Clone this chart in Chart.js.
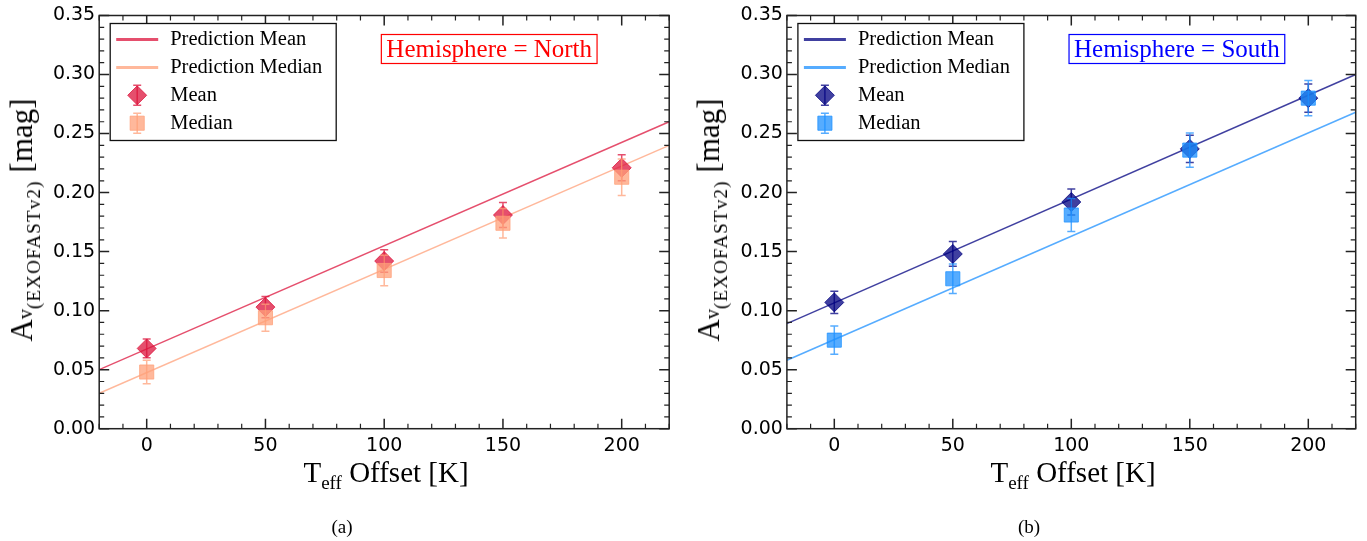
<!DOCTYPE html>
<html>
<head>
<meta charset="utf-8">
<script src="https://cdn.jsdelivr.net/npm/chart.js@4.4.1/dist/chart.umd.min.js"></script>
<style>
    html, body { margin: 0; padding: 0; background: #fff; }
    #page { position: relative; width: 1367px; height: 541px; overflow: hidden; font-family: "Liberation Serif", "Times New Roman", serif; color: #000; }
    #page canvas { position: absolute; top: 0; }
    .xtitle { position: absolute; top: 456px; font-size: 29px; line-height: 32px; white-space: nowrap; transform: translateX(-50%); }
    .xtitle .sub { font-size: 19px; position: relative; top: 7px; }
    .ytitle { position: absolute; font-size: 31px; line-height: 30px; white-space: nowrap; transform: translate(-50%, -50%) rotate(-90deg); }
    .ytitle .v { font-size: 20px; }
    .ytitle .sub { font-size: 19px; position: relative; top: 8px; letter-spacing: 1.2px; }
    .caption { position: absolute; top: 516px; font-size: 19px; line-height: 22px; transform: translateX(-50%); }
</style>
</head>
<body>
<div id="page">
    <canvas id="northChart" width="684" height="541" style="left:0"></canvas>
    <canvas id="southChart" width="683" height="541" style="left:684px"></canvas>

    <div class="ytitle" style="left:24px; top:220px">A<span class="v">v</span><span class="sub">(EXOFASTv2)</span> [mag]</div>
    <div class="ytitle" style="left:711px; top:220px">A<span class="v">v</span><span class="sub">(EXOFASTv2)</span> [mag]</div>

    <div class="xtitle" style="left:386px">T<span class="sub">eff</span> Offset [K]</div>
    <div class="xtitle" style="left:1073px">T<span class="sub">eff</span> Offset [K]</div>

    <div class="caption" style="left:342px">(a)</div>
    <div class="caption" style="left:1029px">(b)</div>
</div>

<script>
// Teff offsets and axis ticks
const OFFSETS = [0, 50, 100, 150, 200];
const FIT_X = [-20, 220];
const X_TICKS = [0, 50, 100, 150, 200];
const Y_TICKS = [0, 0.05, 0.10, 0.15, 0.20, 0.25, 0.30, 0.35];

// Northern hemisphere
const NORTH_MEAN = [0.068, 0.103, 0.142, 0.181, 0.221];
const NORTH_MEAN_ERR = [0.008, 0.009, 0.0095, 0.0105, 0.011];
const NORTH_MEDIAN = [0.048, 0.094, 0.134, 0.174, 0.213];
const NORTH_MEDIAN_ERR = [0.010, 0.0115, 0.013, 0.0125, 0.0155];
const NORTH_FIT_MEAN = [0.050, 0.260];
const NORTH_FIT_MEDIAN = [0.030, 0.240];

// Southern hemisphere
const SOUTH_MEAN = [0.107, 0.148, 0.192, 0.237, 0.280];
const SOUTH_MEAN_ERR = [0.0095, 0.0105, 0.011, 0.0115, 0.012];
const SOUTH_MEDIAN = [0.075, 0.127, 0.181, 0.236, 0.280];
const SOUTH_MEDIAN_ERR = [0.012, 0.0125, 0.014, 0.0145, 0.015];
const SOUTH_FIT_MEAN = [0.089, 0.300];
const SOUTH_FIT_MEDIAN = [0.058, 0.268];

function points(xs, ys) {
    return xs.map(function(x, i) { return { x: x, y: ys[i] }; });
}

/* ─── error bars drawn on top of each scatter dataset ─── */
const errorBars = {
    id: 'errorBars',
    afterDatasetDraw: function(chart, args) {
        const ds = chart.data.datasets[args.index];
        if (!ds.errors) return;
        const ctx = chart.ctx;
        const y = chart.scales.y;
        ctx.save();
        ctx.strokeStyle = ds.borderColor;
        ctx.lineWidth = 1.5;
        args.meta.data.forEach(function(pt, i) {
            const v = ds.data[i].y;
            const top = y.getPixelForValue(v + ds.errors[i]);
            const bot = y.getPixelForValue(v - ds.errors[i]);
            ctx.beginPath();
            ctx.moveTo(pt.x, top); ctx.lineTo(pt.x, bot);
            ctx.moveTo(pt.x - 4, top); ctx.lineTo(pt.x + 4, top);
            ctx.moveTo(pt.x - 4, bot); ctx.lineTo(pt.x + 4, bot);
            ctx.stroke();
        });
        ctx.restore();
    }
};

/* ─── box frame with inward ticks on all four sides ─── */
function tickValues(min, max, step) {
    const out = [];
    for (let k = Math.ceil(min / step - 1e-6); k * step <= max + 1e-9; k++) out.push(k * step);
    return out;
}

const frame = {
    id: 'frame',
    afterDatasetsDraw: function(chart) {
        const a = chart.chartArea;
        const xs = chart.scales.x, ys = chart.scales.y;
        const ctx = chart.ctx;
        ctx.save();
        ctx.strokeStyle = '#222';
        ctx.lineWidth = 1.5;
        ctx.strokeRect(a.left, a.top, a.right - a.left, a.bottom - a.top);

        function xTick(v, len) {
            const px = xs.getPixelForValue(v);
            ctx.moveTo(px, a.bottom); ctx.lineTo(px, a.bottom - len);
            ctx.moveTo(px, a.top); ctx.lineTo(px, a.top + len);
        }
        function yTick(v, len) {
            const py = ys.getPixelForValue(v);
            ctx.moveTo(a.left, py); ctx.lineTo(a.left + len, py);
            ctx.moveTo(a.right, py); ctx.lineTo(a.right - len, py);
        }

        ctx.beginPath();
        X_TICKS.forEach(function(v) { xTick(v, 10); });
        Y_TICKS.forEach(function(v) { yTick(v, 10); });
        ctx.stroke();

        ctx.lineWidth = 1.2;
        ctx.beginPath();
        tickValues(xs.min, xs.max, 10).forEach(function(v) {
            if (v % 50 !== 0) xTick(v, 5);
        });
        tickValues(ys.min, ys.max, 0.01).forEach(function(v) {
            if (Math.abs(v / 0.05 - Math.round(v / 0.05)) > 1e-6) yTick(v, 5);
        });
        ctx.stroke();
        ctx.restore();
    }
};

/* ─── framed legend in the upper left of the plot ─── */
const legendBox = {
    id: 'legendBox',
    afterDraw: function(chart) {
        const a = chart.chartArea;
        const ctx = chart.ctx;
        const left = a.left + 11, top = a.top + 8;
        ctx.save();
        ctx.fillStyle = '#fff';
        ctx.strokeStyle = '#111';
        ctx.lineWidth = 1.3;
        ctx.fillRect(left, top, 226, 117);
        ctx.strokeRect(left, top, 226, 117);

        ctx.font = '20.5px "Liberation Serif"';
        ctx.textBaseline = 'middle';
        chart.data.datasets.forEach(function(ds, i) {
            const cy = top + 16 + i * 27.9;
            if (ds.type === 'line') {
                ctx.strokeStyle = ds.borderColor;
                ctx.lineWidth = 3;
                ctx.beginPath();
                ctx.moveTo(left + 6, cy); ctx.lineTo(left + 48, cy);
                ctx.stroke();
            } else {
                const cx = left + 27;
                ctx.fillStyle = ds.backgroundColor;
                ctx.strokeStyle = ds.borderColor;
                ctx.lineWidth = 1;
                Chart.helpers.drawPoint(ctx, { pointStyle: ds.pointStyle, radius: ds.pointRadius, rotation: 0, borderWidth: 1 }, cx, cy);
                ctx.lineWidth = 1.5;
                ctx.beginPath();
                ctx.moveTo(cx, cy - 10); ctx.lineTo(cx, cy + 10);
                ctx.moveTo(cx - 4, cy - 10); ctx.lineTo(cx + 4, cy - 10);
                ctx.moveTo(cx - 4, cy + 10); ctx.lineTo(cx + 4, cy + 10);
                ctx.stroke();
            }
            ctx.fillStyle = '#000';
            ctx.fillText(ds.label, left + 60, cy);
        });
        ctx.restore();
    }
};

/* ─── hemisphere tag ─── */
const tag = {
    id: 'tag',
    afterDraw: function(chart, args, opts) {
        const a = chart.chartArea;
        const ctx = chart.ctx;
        const cx = a.left + 390, cy = a.top + 33.5;
        ctx.save();
        ctx.font = '25px "Liberation Serif"';
        ctx.textAlign = 'center';
        ctx.textBaseline = 'middle';
        const w = ctx.measureText(opts.text).width + 10;
        ctx.fillStyle = '#fff';
        ctx.fillRect(cx - w / 2, cy - 14.5, w, 29);
        ctx.strokeStyle = opts.color;
        ctx.lineWidth = 1.2;
        ctx.strokeRect(cx - w / 2, cy - 14.5, w, 29);
        ctx.fillStyle = opts.color;
        ctx.fillText(opts.text, cx, cy + 1);
        ctx.restore();
    }
};

function makeChart(id, c) {
    const tickFont = { family: 'DejaVu Sans', size: 19 };
    return new Chart(document.getElementById(id), {
        type: 'scatter',
        data: {
            datasets: [{
                    type: 'line',
                    label: 'Prediction Mean',
                    data: points(FIT_X, c.fitMean),
                    borderColor: c.meanColor,
                    borderWidth: 1.5,
                    pointRadius: 0,
                    fill: false,
                    order: 3,
                },
                {
                    type: 'line',
                    label: 'Prediction Median',
                    data: points(FIT_X, c.fitMedian),
                    borderColor: c.medianColor,
                    borderWidth: 1.5,
                    pointRadius: 0,
                    fill: false,
                    order: 2,
                },
                {
                    label: 'Mean',
                    data: points(OFFSETS, c.mean),
                    errors: c.meanErr,
                    pointStyle: 'rectRot',
                    pointRadius: 9.5,
                    backgroundColor: c.meanColor,
                    borderColor: c.meanColor,
                    borderWidth: 1,
                    order: 1,
                },
                {
                    label: 'Median',
                    data: points(OFFSETS, c.median),
                    errors: c.medianErr,
                    pointStyle: 'rect',
                    pointRadius: 10,
                    backgroundColor: c.medianColor,
                    borderColor: c.medianColor,
                    borderWidth: 1,
                    order: 0,
                }
            ]
        },
        options: {
            responsive: false,
            animation: false,
            events: [],
            layout: { padding: { top: 15.5, right: c.padRight, left: 0, bottom: 0 } },
            plugins: {
                legend: { display: false },
                tooltip: { enabled: false },
                tag: { text: c.tag, color: c.tagColor }
            },
            scales: {
                x: {
                    type: 'linear',
                    min: -20,
                    max: 220,
                    afterBuildTicks: function(s) { s.ticks = X_TICKS.map(function(v) { return { value: v }; }); },
                    afterFit: function(s) { s.height = 112.3; },
                    grid: { display: false, drawTicks: false },
                    border: { display: false },
                    ticks: { font: tickFont, color: '#000', padding: 6, maxRotation: 0 }
                },
                y: {
                    min: 0,
                    max: 0.35,
                    afterBuildTicks: function(s) { s.ticks = Y_TICKS.map(function(v) { return { value: v }; }); },
                    afterFit: function(s) { s.width = c.yWidth; },
                    grid: { display: false, drawTicks: false },
                    border: { display: false },
                    ticks: { font: tickFont, color: '#000', padding: 4, callback: function(v) { return v.toFixed(2); } }
                }
            }
        },
        plugins: [errorBars, frame, legendBox, tag]
    });
}

makeChart('northChart', {
    mean: NORTH_MEAN, meanErr: NORTH_MEAN_ERR,
    median: NORTH_MEDIAN, medianErr: NORTH_MEDIAN_ERR,
    fitMean: NORTH_FIT_MEAN, fitMedian: NORTH_FIT_MEDIAN,
    meanColor: 'rgba(220, 20, 60, 0.75)',
    medianColor: 'rgba(255, 160, 122, 0.75)',
    tag: 'Hemisphere = North', tagColor: '#ff0000',
    yWidth: 99.2, padRight: 14.8
});

makeChart('southChart', {
    mean: SOUTH_MEAN, meanErr: SOUTH_MEAN_ERR,
    median: SOUTH_MEDIAN, medianErr: SOUTH_MEDIAN_ERR,
    fitMean: SOUTH_FIT_MEAN, fitMedian: SOUTH_FIT_MEDIAN,
    meanColor: 'rgba(0, 0, 128, 0.75)',
    medianColor: 'rgba(30, 144, 255, 0.75)',
    tag: 'Hemisphere = South', tagColor: '#0000ff',
    yWidth: 102.9, padRight: 11.3
});
</script>
</body>
</html>
